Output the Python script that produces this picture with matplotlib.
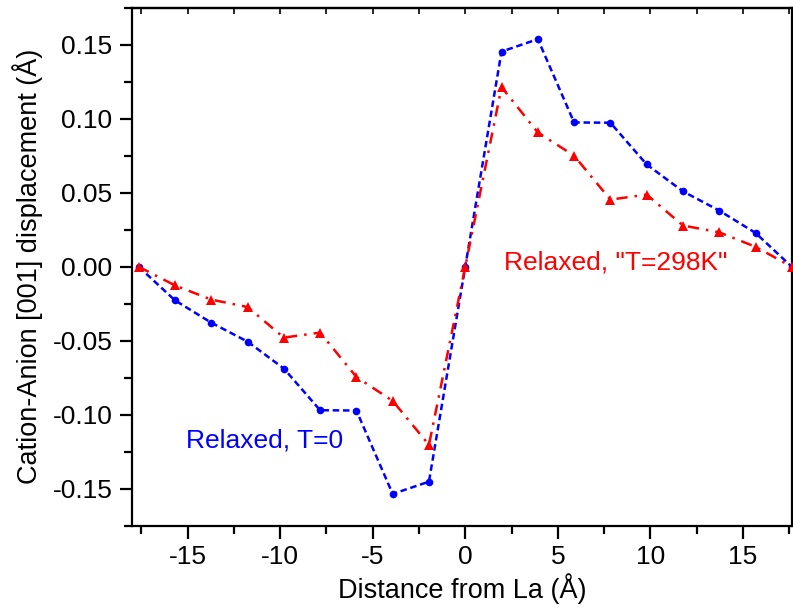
import matplotlib
matplotlib.use("Agg")
import matplotlib.pyplot as plt
from matplotlib.ticker import MultipleLocator

plt.rcParams['font.family'] = ['Liberation Sans', 'DejaVu Sans']
plt.rcParams['axes.unicode_minus'] = False

distance = [-17.64, -15.68, -13.72, -11.76, -9.80, -7.84, -5.88, -3.92, -1.96, 0.0,
            1.96, 3.92, 5.88, 7.84, 9.80, 11.76, 13.72, 15.68, 17.64]
relaxed_T0 = [0.0, -0.0227, -0.0378, -0.0506, -0.0688, -0.0970, -0.0972, -0.1536, -0.1453, 0.0,
              0.1455, 0.1539, 0.0976, 0.0974, 0.0692, 0.0510, 0.0380, 0.0229, 0.0]
relaxed_T298 = [0.0, -0.0126, -0.0222, -0.0272, -0.0479, -0.0445, -0.0745, -0.0907, -0.1204, 0.0,
                0.1215, 0.0908, 0.0751, 0.0454, 0.0488, 0.0279, 0.0233, 0.0135, 0.0]

xticks = [-15, -10, -5, 0, 5, 10, 15]
yticks = [-0.15, -0.10, -0.05, 0.00, 0.05, 0.10, 0.15]
ytick_labels = ['-0.15', '-0.10', '-0.05', '0.00', '0.05', '0.10', '0.15']

fig = plt.figure(figsize=(7.93, 6.12), dpi=100)
ax = fig.add_axes([0.1665, 0.1412, 0.8322, 0.8458])

ax.plot(distance, relaxed_T0, color='#0000ff', lw=1.8, dashes=(2.6, 1.5),
        marker='o', markersize=5.5, markeredgewidth=0, clip_on=False, zorder=3)
ax.plot(distance, relaxed_T298, color='#ff0000', lw=1.8, dashes=(4.5, 2.8, 1, 2.8),
        marker='^', markersize=7, markeredgewidth=0, clip_on=False, zorder=3)

ax.text(-15.1, -0.1172, 'Relaxed, T=0', color='#0000ff', fontsize=19,
        va='center', ha='left')
ax.text(2.1, 0.0031, 'Relaxed, "T=298K"', color='#ff0000', fontsize=19,
        va='center', ha='left')

ax.set_xlim(-18.0, 17.65)
ax.set_ylim(-0.175, 0.175)
ax.set_xticks(xticks)
ax.set_yticks(yticks)
ax.set_yticklabels(ytick_labels)
ax.xaxis.set_minor_locator(MultipleLocator(2.5))
ax.yaxis.set_minor_locator(MultipleLocator(0.025))

for s in ax.spines.values():
    s.set_linewidth(1.6)

ax.tick_params(axis='both', which='major', direction='out', length=9, width=1.6,
               labelsize=19, pad=5, top=False, right=False)
ax.tick_params(axis='both', which='minor', direction='out', length=6, width=1.6,
               top=False, right=False)

# inward ticks on top
sec = ax.secondary_xaxis('top')
sec.set_xticks(xticks)
sec.xaxis.set_minor_locator(MultipleLocator(2.5))
sec.tick_params(axis='x', which='both', direction='in', length=4, width=1.2,
                labeltop=False)
sec.spines['top'].set_linewidth(1.6)

ax.set_xlabel('Distance from La (Å)', fontsize=19.5, labelpad=3)
ax.set_ylabel('Cation-Anion [001] displacement (Å)', fontsize=19.5, labelpad=7)

fig.savefig('out.png', dpi=100)
